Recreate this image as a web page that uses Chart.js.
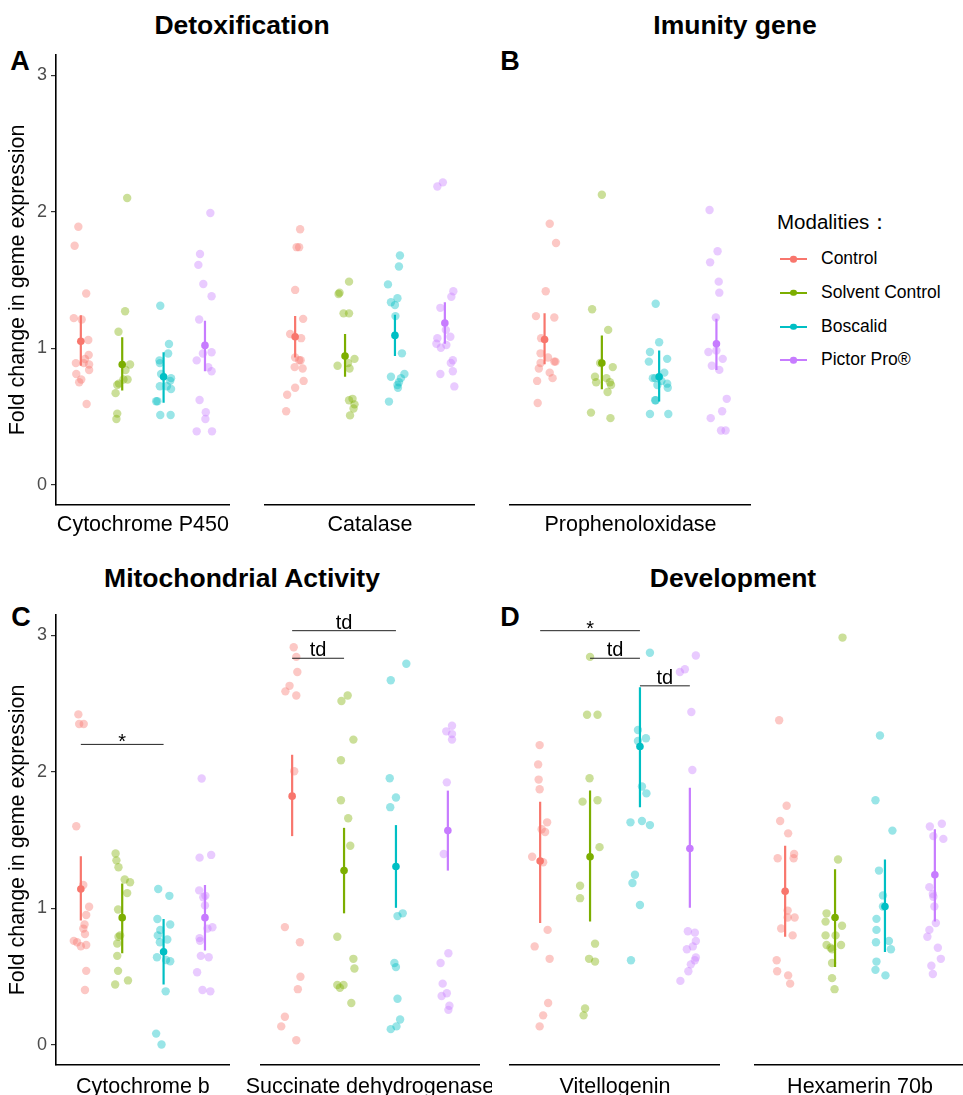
<!DOCTYPE html>
<html>
<head>
<meta charset="utf-8">
<script src="https://cdn.jsdelivr.net/npm/chart.js@4.4.0/dist/chart.umd.min.js"></script>
<style>
  body { margin: 0; width: 963px; height: 1095px; overflow: hidden; background: #fff; position: relative;
         font-family: 'Liberation Sans', Arial, sans-serif; }
  canvas { position: absolute; }
  .title { position: absolute; transform: translate(-50%, -50%); font-weight: bold; font-size: 26.5px; white-space: nowrap; line-height: 1; }
  .tag { position: absolute; transform: translate(-50%, -50%); font-weight: bold; font-size: 27px; line-height: 1; }
  .lg { position: absolute; white-space: nowrap; transform: translateY(-50%); line-height: 1; }
  .lg.head { left: 777px; font-size: 20.5px; }
  .lg.txt { left: 821px; font-size: 17.5px; }
  .lg.ln { left: 780px; width: 27px; height: 2px; transform: translateY(-1px); }
  .lg.dt { left: 790px; width: 6.5px; height: 6.5px; border-radius: 50%; transform: translateY(-3.25px); }
</style>
</head>
<body>
<div class="title" style="left:242px;top:25px">Detoxification</div>
<div class="title" style="left:735px;top:25px">Imunity gene</div>
<div class="title" style="left:242px;top:578px">Mitochondrial Activity</div>
<div class="title" style="left:733px;top:578px">Development</div>
<div class="tag" style="left:20px;top:61px">A</div>
<div class="tag" style="left:510px;top:61px">B</div>
<div class="tag" style="left:21px;top:617px">C</div>
<div class="tag" style="left:510px;top:617px">D</div>

<canvas id="p450" width="234" height="500" style="left:0px;top:40px"></canvas>
<canvas id="catalase" width="218" height="500" style="left:261px;top:40px"></canvas>
<canvas id="propheno" width="249" height="500" style="left:506px;top:40px"></canvas>
<canvas id="cytb" width="234" height="500" style="left:0px;top:600px"></canvas>
<canvas id="succ" width="268" height="500" style="left:236px;top:600px"></canvas>
<canvas id="vitello" width="218" height="500" style="left:506px;top:600px"></canvas>
<canvas id="hexa" width="218" height="500" style="left:751px;top:600px"></canvas>
<div id="legend"></div>

<script>
// groups and colours
const groups = ['Control', 'Solvent Control', 'Boscalid', 'Pictor Pro®'];
const colors = ['#F8766D', '#7CAE00', '#00BFC4', '#C77CFF'];
const yTicks = [0, 1, 2, 3];

// Cytochrome P450
const p450Values = [
  [1.89, 1.75, 1.40, 1.22, 1.21, 1.06, 0.95, 0.89, 0.92, 0.89, 0.88, 0.84, 0.81, 0.77, 0.75, 0.59],
  [2.10, 1.27, 1.12, 0.88, 0.84, 0.77, 0.77, 0.74, 0.73, 0.67, 0.52, 0.48],
  [1.31, 1.03, 0.96, 0.91, 0.89, 0.81, 0.78, 0.76, 0.72, 0.72, 0.70, 0.61, 0.61, 0.51, 0.51],
  [1.99, 1.69, 1.61, 1.47, 1.38, 1.21, 0.96, 0.97, 0.91, 0.86, 0.83, 0.62, 0.53, 0.48, 0.39, 0.39]
];
const p450Jitter = [
  [-0.06, -0.15, 0.13, -0.17, 0.02, 0.18, 0.19, -0.12, 0.10, 0.07, 0.20, 0.20, -0.11, 0.01, -0.04, 0.14],
  [0.12, 0.07, -0.09, 0.19, 0.08, 0.13, 0.03, -0.08, -0.12, -0.16, -0.12, -0.14],
  [-0.08, 0.13, 0.11, -0.10, -0.09, -0.06, 0.18, 0.16, 0.08, -0.09, 0.18, -0.18, -0.15, -0.08, 0.17],
  [0.13, -0.12, -0.16, -0.04, 0.16, -0.14, -0.05, 0.16, -0.20, 0.08, 0.16, -0.13, 0.02, 0.01, -0.20, 0.17]
];
const p450Mean = [1.05, 0.88, 0.79, 1.02];
const p450Low = [0.87, 0.69, 0.60, 0.83];
const p450High = [1.24, 1.08, 0.97, 1.20];

// Catalase
const catValues = [
  [1.85, 1.72, 1.72, 1.41, 1.20, 1.09, 1.06, 0.92, 0.90, 0.90, 0.85, 0.84, 0.75, 0.70, 0.65, 0.53],
  [1.47, 1.39, 1.38, 1.24, 1.24, 0.91, 0.88, 0.86, 0.84, 0.61, 0.62, 0.58, 0.55, 0.50],
  [1.66, 1.58, 1.45, 1.35, 1.32, 1.30, 1.22, 0.95, 0.80, 0.78, 0.77, 0.74, 0.72, 0.70, 0.60],
  [2.19, 2.16, 1.40, 1.36, 1.28, 1.12, 1.07, 1.06, 1.02, 1.01, 0.99, 0.90, 0.88, 0.82, 0.80, 0.71]
];
const catJitter = [
  [0.10, 0.03, 0.08, 0.00, 0.16, -0.10, 0.12, 0.00, 0.08, 0.11, -0.01, 0.15, 0.17, 0.00, -0.16, -0.18],
  [0.08, -0.11, -0.13, -0.03, 0.08, 0.19, 0.06, -0.15, 0.09, 0.08, 0.15, 0.19, 0.17, 0.10],
  [0.10, 0.08, -0.14, 0.05, -0.08, 0.00, 0.01, 0.14, 0.19, -0.08, 0.12, 0.08, 0.05, 0.06, -0.12],
  [-0.04, -0.15, 0.17, 0.13, -0.09, 0.02, 0.11, -0.15, -0.17, 0.03, -0.08, 0.16, 0.12, 0.16, -0.09, 0.19]
];
const catMean = [1.07, 0.93, 1.08, 1.17];
const catLow = [0.92, 0.78, 0.93, 1.02];
const catHigh = [1.22, 1.09, 1.23, 1.32];

// Prophenoloxidase
const proValues = [
  [1.89, 1.75, 1.40, 1.22, 1.21, 1.06, 0.95, 0.92, 0.89, 0.89, 0.88, 0.84, 0.81, 0.77, 0.75, 0.59],
  [2.10, 1.27, 1.12, 0.88, 0.85, 0.78, 0.77, 0.74, 0.74, 0.72, 0.67, 0.52, 0.48],
  [1.31, 1.03, 0.96, 0.91, 0.89, 0.81, 0.77, 0.75, 0.77, 0.73, 0.72, 0.70, 0.61, 0.61, 0.51, 0.51],
  [1.99, 1.69, 1.61, 1.47, 1.39, 1.21, 0.96, 0.97, 0.91, 0.86, 0.83, 0.62, 0.53, 0.48, 0.39, 0.39]
];
const proJitter = [
  [0.09, 0.20, 0.02, -0.15, 0.17, -0.06, -0.07, 0.06, 0.17, 0.19, -0.07, -0.10, 0.09, 0.14, -0.13, -0.12],
  [0.00, -0.17, 0.11, -0.03, 0.19, -0.12, 0.08, -0.10, 0.14, 0.16, 0.10, -0.19, 0.15],
  [-0.06, 0.00, -0.16, 0.14, -0.18, 0.09, -0.11, 0.04, -0.07, 0.14, -0.03, 0.15, -0.07, -0.06, -0.16, 0.16],
  [-0.12, 0.02, -0.11, 0.04, 0.05, -0.01, -0.14, 0.00, 0.11, -0.08, 0.05, 0.18, 0.10, -0.10, 0.08, 0.16]
];
const proMean = [1.05, 0.88, 0.78, 1.02];
const proLow = [0.87, 0.69, 0.60, 0.83];
const proHigh = [1.24, 1.08, 0.97, 1.20];

// Cytochrome b
const cytbValues = [
  [2.42, 2.35, 2.35, 1.60, 1.17, 1.01, 0.95, 0.88, 0.85, 0.81, 0.76, 0.75, 0.72, 0.73, 0.54, 0.40],
  [1.40, 1.35, 1.30, 1.21, 1.19, 1.11, 0.99, 0.80, 0.79, 0.74, 0.65, 0.54, 0.47, 0.44],
  [1.14, 1.09, 0.92, 0.88, 0.84, 0.80, 0.77, 0.75, 0.64, 0.62, 0.61, 0.39, 0.08, 0.00],
  [1.95, 1.37, 1.39, 1.13, 1.09, 1.08, 1.02, 0.85, 0.86, 0.78, 0.76, 0.65, 0.64, 0.53, 0.40, 0.39]
];
const cytbJitter = [
  [-0.06, -0.04, 0.07, -0.11, 0.06, 0.20, 0.13, 0.09, 0.06, 0.10, -0.17, -0.09, 0.00, 0.13, 0.13, 0.10],
  [-0.16, -0.14, -0.09, 0.06, 0.19, 0.12, -0.10, -0.05, -0.09, -0.12, -0.12, -0.10, 0.14, -0.17],
  [-0.13, 0.14, -0.15, 0.16, -0.08, -0.14, 0.09, -0.09, -0.16, 0.06, 0.16, 0.05, -0.18, -0.05],
  [-0.08, -0.13, 0.15, -0.14, 0.01, -0.04, 0.00, 0.06, 0.18, -0.13, -0.12, -0.10, 0.09, -0.19, -0.06, 0.13]
];
const cytbMean = [1.14, 0.93, 0.68, 0.93];
const cytbLow = [0.91, 0.67, 0.44, 0.69];
const cytbHigh = [1.38, 1.18, 0.92, 1.17];
const cytbBrackets = [[1, 3, 2.2, '*']];

// Succinate dehydrogenase
const succValues = [
  [2.88, 2.81, 2.70, 2.60, 2.56, 2.53, 1.98, 0.85, 0.74, 0.49, 0.40, 0.20, 0.13, 0.03],
  [2.53, 2.49, 2.21, 2.06, 1.77, 1.64, 1.44, 0.78, 0.62, 0.55, 0.43, 0.41, 0.43, 0.30],
  [2.76, 2.64, 1.93, 1.79, 1.72, 0.95, 0.93, 0.59, 0.56, 0.33, 0.18, 0.13, 0.11],
  [2.31, 2.27, 2.25, 2.21, 1.90, 1.38, 0.66, 0.59, 0.44, 0.37, 0.35, 0.28, 0.25]
];
const succJitter = [
  [0.03, 0.08, 0.10, -0.05, -0.13, 0.08, 0.04, -0.14, 0.15, 0.16, 0.11, -0.14, -0.21, 0.08],
  [0.07, -0.05, 0.18, -0.06, -0.06, 0.08, 0.12, -0.13, 0.18, 0.20, -0.13, -0.08, -0.01, 0.14],
  [0.20, -0.10, -0.12, 0.00, -0.11, 0.13, 0.03, -0.03, 0.00, 0.03, 0.08, 0.01, -0.10],
  [0.08, -0.03, 0.08, 0.08, -0.02, -0.08, 0.01, -0.14, -0.10, -0.02, -0.12, 0.03, 0.01]
];
const succMean = [1.80, 1.26, 1.29, 1.55];
const succLow = [1.51, 0.95, 0.99, 1.26];
const succHigh = [2.10, 1.57, 1.59, 1.84];
const succBrackets = [[1, 3, 3.0, 'td'], [1, 2, 2.8, 'td']];

// Vitellogenin
const vitValues = [
  [2.17, 2.03, 1.92, 1.85, 1.61, 1.56, 1.54, 1.36, 1.32, 0.83, 0.71, 0.62, 0.30, 0.21, 0.13],
  [2.81, 2.39, 2.39, 1.93, 1.76, 1.77, 1.43, 1.15, 1.06, 0.73, 0.62, 0.60, 0.26, 0.21],
  [2.84, 2.28, 2.22, 2.20, 1.87, 1.82, 1.61, 1.62, 1.59, 1.23, 1.17, 1.01, 0.61],
  [2.82, 2.72, 2.70, 2.41, 1.99, 0.82, 0.81, 0.75, 0.69, 0.71, 0.63, 0.61, 0.58, 0.53, 0.46]
];
const vitJitter = [
  [-0.01, -0.04, -0.03, -0.01, 0.14, 0.03, 0.10, -0.16, 0.06, 0.15, -0.11, 0.19, 0.16, 0.06, -0.01],
  [0.00, -0.06, 0.15, -0.01, -0.15, 0.15, 0.19, -0.20, -0.20, 0.10, -0.02, 0.10, -0.10, -0.13],
  [0.20, -0.04, 0.12, -0.04, 0.04, 0.13, -0.19, 0.04, 0.20, -0.10, -0.15, 0.00, -0.18],
  [0.12, -0.10, -0.20, 0.03, 0.05, -0.04, 0.10, 0.12, -0.06, 0.06, 0.12, 0.10, 0.02, -0.03, -0.19]
];
const vitMean = [1.33, 1.36, 2.16, 1.42];
const vitLow = [0.88, 0.89, 1.72, 0.99];
const vitHigh = [1.76, 1.84, 2.59, 1.86];
const vitBrackets = [[1, 3, 3.0, '*'], [2, 3, 2.8, 'td'], [3, 4, 2.6, 'td']];

// Hexamerin 70b
const hexValues = [
  [2.35, 1.73, 1.62, 1.53, 1.35, 1.38, 1.35, 0.97, 0.92, 0.92, 0.84, 0.79, 0.61, 0.53, 0.50, 0.44],
  [2.95, 1.34, 0.95, 0.89, 0.86, 0.79, 0.79, 0.72, 0.72, 0.70, 0.69, 0.59, 0.48, 0.40],
  [2.24, 1.77, 1.55, 1.26, 1.08, 1.00, 0.91, 0.83, 0.74, 0.75, 0.69, 0.60, 0.54, 0.50],
  [1.60, 1.58, 1.51, 1.49, 1.14, 1.09, 1.07, 1.00, 0.88, 0.83, 0.78, 0.70, 0.62, 0.57, 0.51]
];
const hexJitter = [
  [-0.12, 0.03, -0.10, 0.06, -0.15, 0.18, 0.17, 0.05, 0.05, 0.19, -0.08, 0.15, -0.17, -0.16, 0.06, 0.10],
  [0.15, 0.06, -0.17, -0.19, 0.14, -0.19, 0.01, -0.17, 0.12, -0.09, -0.06, -0.06, -0.06, -0.01],
  [-0.10, -0.19, 0.15, -0.12, -0.04, -0.04, -0.17, -0.17, -0.18, 0.08, 0.12, -0.17, -0.19, 0.01],
  [0.14, -0.10, -0.03, 0.17, -0.11, -0.04, -0.03, -0.01, 0.02, -0.11, -0.15, 0.06, 0.12, -0.07, -0.04]
];
const hexMean = [1.11, 0.92, 1.00, 1.23];
const hexLow = [0.78, 0.56, 0.67, 0.89];
const hexHigh = [1.44, 1.27, 1.34, 1.56];

const FONT = "'Liberation Sans', Arial, sans-serif";
Chart.defaults.font.family = FONT;

function fade(hex, a) {
  const n = parseInt(hex.slice(1), 16);
  return `rgba(${n >> 16}, ${(n >> 8) & 255}, ${n & 255}, ${a})`;
}

// significance labels above brackets + facet label under the x axis
const facetText = {
  id: 'facetText',
  afterDraw(chart, args, opts) {
    const { ctx, scales, chartArea } = chart;
    ctx.save();
    ctx.fillStyle = '#000';
    ctx.font = '20px ' + FONT;
    ctx.textAlign = 'center';
    ctx.textBaseline = 'alphabetic';
    (opts.brackets || []).forEach(b => {
      const x = scales.x.getPixelForValue((b[0] + b[1]) / 2);
      const y = scales.y.getPixelForValue(b[2]);
      ctx.fillText(b[3], x, b[3] === '*' ? y + 4 : y - 2);
    });
    // facet label, may run wider than the panel (clipped a little past its right end)
    ctx.beginPath();
    ctx.rect(0, chartArea.bottom, chartArea.right + 13, chart.height - chartArea.bottom);
    ctx.clip();
    ctx.font = '21.5px ' + FONT;
    ctx.textBaseline = 'middle';
    ctx.fillText(opts.label, (chartArea.left + chartArea.right) / 2, chartArea.bottom + opts.labelGap);
    ctx.restore();
  }
};

function makeFacet(id, label, values, jitter, means, lows, highs, brackets, showY, bottomRow, sidePad) {
  const datasets = [];
  groups.forEach((g, i) => {
    datasets.push({
      label: g + ' mean',
      data: [{ x: i + 1, y: means[i] }],
      backgroundColor: colors[i], borderWidth: 0, pointRadius: 3.8, order: 0
    });
    datasets.push({
      label: g + ' error',
      data: [{ x: i + 1, y: lows[i] }, { x: i + 1, y: highs[i] }],
      showLine: true, borderColor: colors[i], borderWidth: 2.2, pointRadius: 0, order: 1
    });
    datasets.push({
      label: g,
      data: values[i].map((v, k) => ({ x: i + 1 + jitter[i][k], y: v })),
      backgroundColor: fade(colors[i], 0.4), borderWidth: 0, pointRadius: 4.2, order: 2
    });
  });
  brackets.forEach(b => {
    datasets.push({
      data: [{ x: b[0], y: b[2] }, { x: b[1], y: b[2] }],
      showLine: true, borderColor: '#222', borderWidth: 1, pointRadius: 0, order: 1
    });
  });

  const yScale = {
    display: showY,
    min: -0.15, max: 3.15,
    grid: { display: true, drawOnChartArea: false, drawTicks: true, tickLength: 5, color: '#333', lineWidth: 1.2 },
    border: { display: true, color: '#000', width: 1.6 },
    ticks: { color: '#4d4d4d', font: { size: 18 }, padding: 4 },
    afterBuildTicks: s => { s.ticks = yTicks.map(v => ({ value: v })); },
    title: {
      display: true, text: 'Fold change in geme expression', color: '#000',
      font: { size: 21.5 }, padding: { top: 5, bottom: 0 }
    }
  };
  if (showY) yScale.afterFit = s => { s.width = 56; };

  const pad = sidePad || 0;
  new Chart(document.getElementById(id), {
    type: 'scatter',
    data: { datasets },
    plugins: [facetText],
    options: {
      responsive: false,
      animation: false,
      events: [],
      layout: { padding: { top: 10, left: pad, right: pad, bottom: 0 } },
      plugins: {
        legend: { display: false },
        tooltip: { enabled: false },
        facetText: { brackets, label, labelGap: bottomRow ? 22 : 20 }
      },
      scales: {
        x: {
          type: 'linear', min: 0.4, max: 4.6,
          grid: { display: false },
          ticks: { display: false },
          border: { display: true, color: '#000', width: 1.6 },
          afterFit: s => { s.height = 35; }
        },
        y: yScale
      }
    }
  });
}

makeFacet('p450', 'Cytochrome P450', p450Values, p450Jitter, p450Mean, p450Low, p450High, [], true, false);
makeFacet('catalase', 'Catalase', catValues, catJitter, catMean, catLow, catHigh, [], false, false);
makeFacet('propheno', 'Prophenoloxidase', proValues, proJitter, proMean, proLow, proHigh, [], false, false);
makeFacet('cytb', 'Cytochrome b', cytbValues, cytbJitter, cytbMean, cytbLow, cytbHigh, cytbBrackets, true, true);
makeFacet('succ', 'Succinate dehydrogenase', succValues, succJitter, succMean, succLow, succHigh, succBrackets, false, true, 25);
makeFacet('vitello', 'Vitellogenin', vitValues, vitJitter, vitMean, vitLow, vitHigh, vitBrackets, false, true);
makeFacet('hexa', 'Hexamerin 70b', hexValues, hexJitter, hexMean, hexLow, hexHigh, [], false, true);

// legend
const legend = document.getElementById('legend');
let html = '<div class="lg head" style="top:222px">Modalities：</div>';
groups.forEach((g, i) => {
  const y = 259.3 + i * 33.6;
  html += `<div class="lg ln" style="top:${y}px;background:${colors[i]}"></div>` +
          `<div class="lg dt" style="top:${y}px;background:${colors[i]}"></div>` +
          `<div class="lg txt" style="top:${y}px">${g}</div>`;
});
legend.innerHTML = html;
</script>
</body>
</html>
